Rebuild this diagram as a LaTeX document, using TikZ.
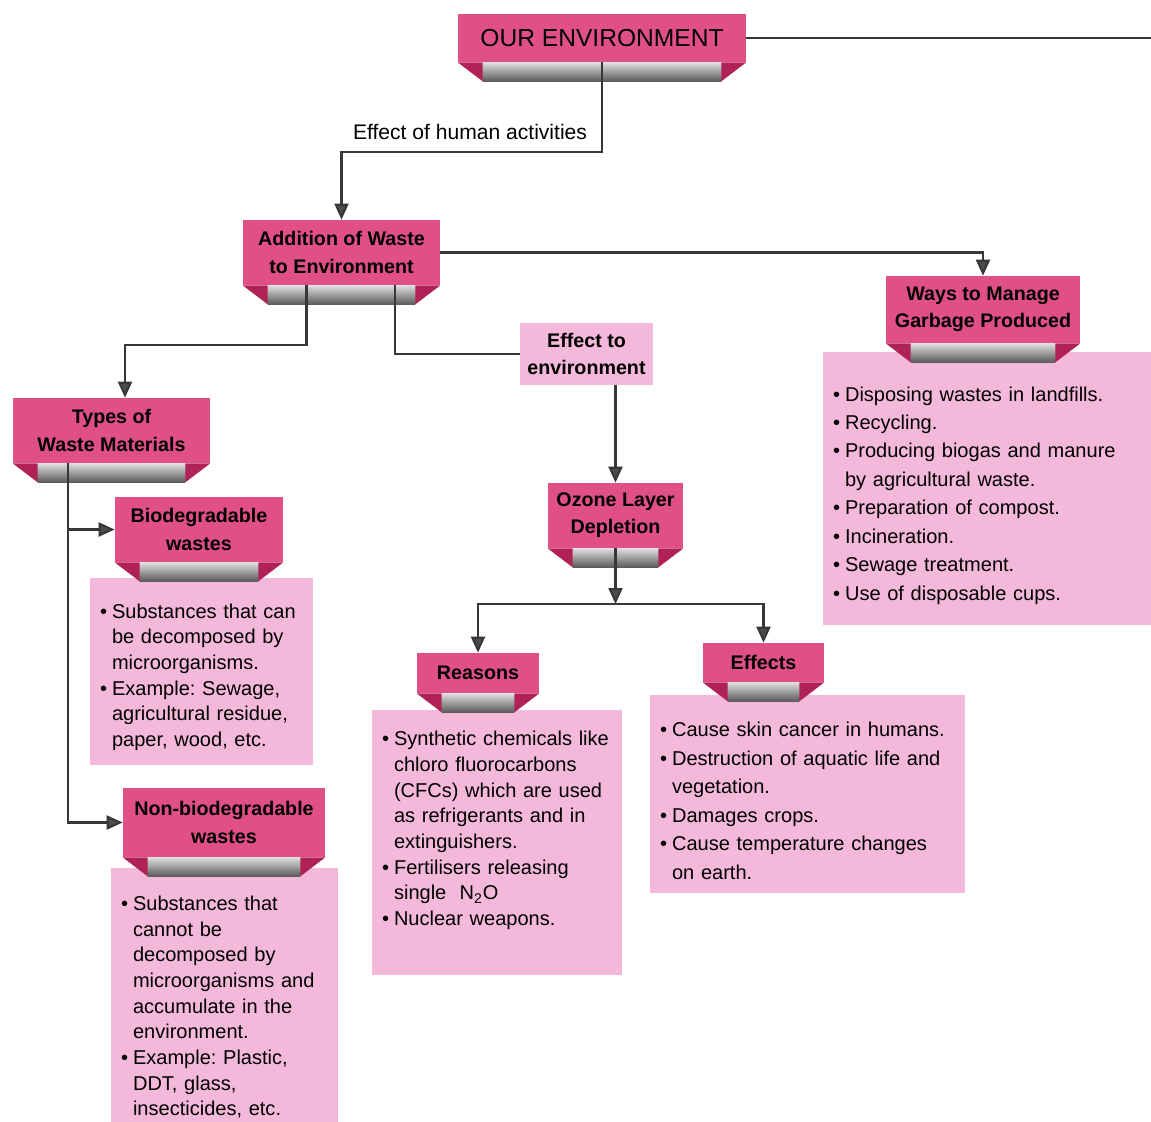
\documentclass[tikz,border=0pt]{standalone}
\usepackage{fontspec}
\setmainfont{Liberation Sans}
\usetikzlibrary{arrows.meta}
\definecolor{ribbon}{RGB}{224,80,134}
\definecolor{ribbondark}{RGB}{176,34,86}
\definecolor{notepink}{RGB}{244,184,218}
\definecolor{wire}{RGB}{55,55,55}
\newcommand*{\fold}{0.5cm}
\newcommand*{\drop}{0.38cm}
\newcommand*{\bul}[1]{\par\hangindent=0.6em\hangafter=1\noindent\makebox[0.6em][l]{\textbullet}{\let\\\newline #1}\par}
\tikzset{
	banner/.style n args={2}{
		fill = ribbon,
		minimum width = #1,
		minimum height = #2,
		align = center,
		inner sep = 0pt,
		font = \fontsize{11.2}{15.5}\selectfont\bfseries,
		append after command = {\pgfextra{
			\shade [top color=gray!25, bottom color=black!65]
				([xshift=\fold]\tikzlastnode.south west) rectangle ([xshift=-\fold,yshift=-\drop]\tikzlastnode.south east);
			\fill [ribbondark] (\tikzlastnode.south west) -- ++(\fold,0) -- ++(0,-\drop) -- cycle;
			\fill [ribbondark] (\tikzlastnode.south east) -- ++(-\fold,0) -- ++(0,-\drop) -- cycle;
			}},
		},
	note/.style n args={2}{
		fill = notepink,
		text width = #1,
		minimum height = #2,
		inner xsep = 0.2cm,
		align = left,
		font = \fontsize{11.4}{14.6}\selectfont\frenchspacing,
		},
	loose/.style = {font=\fontsize{11.4}{16.2}\selectfont\frenchspacing},
	wire/.style = {draw=wire, line width=1.2pt},
	arrow/.style = {wire, -{Triangle[length=0.32cm, width=0.28cm, fill=gray!60!black]}},
	}

\begin{document}
\begin{tikzpicture}[x=0.02cm, y=-0.02cm]
	\useasboundingbox (0,0) rectangle (1151,1121);
	% lists
	\node (waysnote) [note={6.34cm}{5.46cm}, loose] at (991.5,488.5) {%
		\bul{Disposing wastes in landfills.}
		\bul{Recycling.}
		\bul{Producing biogas and manure\\by agricultural waste.}
		\bul{Preparation of compost.}
		\bul{Incineration.}
		\bul{Sewage treatment.}
		\bul{Use of disposable cups.}};
	\node (bionote) [note={4.06cm}{3.74cm}] at (201.5,671.5) {%
		\bul{Substances that can\\be decomposed by\\microorganisms.}
		\bul{Example: Sewage,\\agricultural residue,\\paper, wood, etc.}};
	\node (nonbionote) [note={4.14cm}{5.34cm}] at (224.5,1001.5) {%
		\bul{Substances that\\cannot be\\decomposed by\\microorganisms and\\accumulate in the\\environment.}
		\bul{Example: Plastic,\\DDT, glass,\\insecticides, etc.}};
	\node (reasonsnote) [note={4.6cm}{5.3cm}] at (497,842.5) {%
		\bul{Synthetic chemicals like\\chloro fluorocarbons\\(CFCs) which are used\\as refrigerants and in\\extinguishers.}
		\bul{Fertilisers releasing\\single\ \ N\textsubscript{2}O}
		\bul{Nuclear weapons.}
		\vskip 0.7cm\hrule height 0pt};
	\node (effectsnote) [note={5.9cm}{3.96cm}, loose] at (807.5,794) {%
		\bul{Cause skin cancer in humans.}
		\bul{Destruction of aquatic life and\\vegetation.}
		\bul{Damages crops.}
		\bul{Cause temperature changes\\on earth.}};
	% ribbons
	\node (env) [banner={5.76cm}{0.96cm}, font=\fontsize{14}{16}\selectfont] at (602,38) {OUR ENVIRONMENT};
	\node (add) [banner={3.94cm}{1.3cm}] at (341.5,252.5) {Addition of Waste\\to Environment};
	\node (ways) [banner={3.88cm}{1.34cm}] at (983,309.5) {Ways to Manage\\Garbage Produced};
	\node (effenv) [fill=notepink, minimum width=2.66cm, minimum height=1.24cm, inner sep=0pt, align=center,
		font=\fontsize{11.2}{15.5}\selectfont\bfseries] at (586.5,354) {Effect to\\environment};
	\node (types) [banner={3.94cm}{1.3cm}] at (111.5,430.5) {Types of\\Waste Materials};
	\node (ozone) [banner={2.7cm}{1.3cm}] at (615.5,515.5) {Ozone Layer\\Depletion};
	\node (bio) [banner={3.36cm}{1.3cm}] at (199,529.5) {Biodegradable\\wastes};
	\node (nonbio) [banner={4.04cm}{1.38cm}] at (224,822.5) {Non-biodegradable\\wastes};
	\node (reasons) [banner={2.44cm}{0.8cm}] at (478,673) {Reasons};
	\node (effects) [banner={2.42cm}{0.78cm}] at (763.5,662.5) {Effects};
	\node (human) [font=\fontsize{12}{14}\selectfont] at (470,132) {Effect of human activities};
	% connectors
	\coordinate (envout) at (1151,38);
	\coordinate (hband) at (341.5,152);
	\coordinate (abend) at (125,345);
	\coordinate (osplit) at (615.5,604);
	\coordinate (tleg) at (68,470);
	\draw [wire] (env.east) -- (envout);
	\draw [arrow] (env.south) |- (hband) -- (add.north);
	\draw [arrow] (add.east) -| (ways.north);
	\draw [arrow] ([xshift=-0.7cm]add.south) |- (abend) -- (types.north -| abend);
	\draw [wire] ([xshift=1.07cm]add.south) |- (effenv.west);
	\draw [arrow] (effenv.south -| ozone.north) -- (ozone.north);
	\draw [arrow] (ozone.south) -- (osplit);
	\draw [arrow] (osplit) -| (reasons.north);
	\draw [arrow] (osplit) -| (effects.north);
	\draw [arrow] (types.south -| tleg) |- (bio.west);
	\draw [arrow] (types.south -| tleg) |- (nonbio.west);
\end{tikzpicture}
\end{document}
